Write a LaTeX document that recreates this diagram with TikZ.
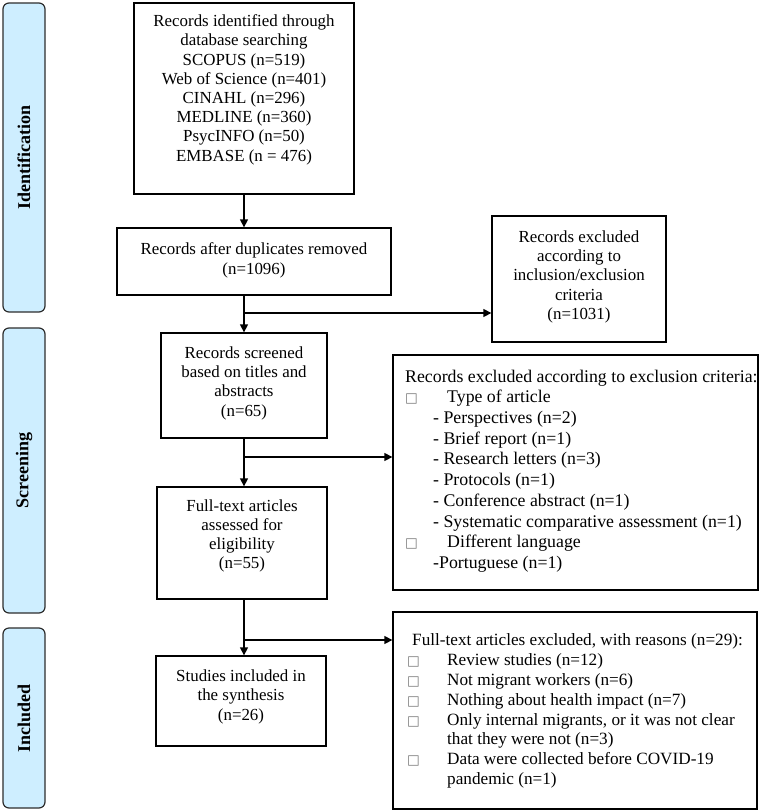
\documentclass[tikz,border=0pt]{standalone}
\usepackage{fontspec}
\setmainfont{Liberation Serif}
\newfontfamily\symfont{DejaVu Sans}
\usetikzlibrary{arrows.meta}
\definecolor{phasefill}{RGB}{206,238,255}
\definecolor{phaseline}{RGB}{45,45,45}
\definecolor{chkgray}{RGB}{120,120,120}
\newcommand{\chk}{{\symfont\fontsize{13.5}{13.5}\selectfont\color{chkgray}□}}
\begin{document}
\begin{tikzpicture}[x=1pt,y=-1pt,
  phase/.style={draw=phaseline, fill=phasefill, rounded corners=6pt, line width=1.2pt,
    rotate=90, inner sep=0pt, font=\fontsize{18}{18}\selectfont\bfseries},
  box/.style={draw=black, line width=1.3pt, inner sep=0pt, align=center,
    font=\fontsize{16.9}{19.2}\selectfont},
  listtext/.style={inner sep=0pt, align=left, anchor=west},
  ln/.style={line width=1.3pt},
  arr/.style={line width=1.3pt, -{Triangle[length=8pt,width=8pt]}}]
\useasboundingbox (0,0) rectangle (765,812);

% phase bars
\node[phase, minimum width=309pt, minimum height=42pt] (pid) at (24,157.5) {Identification};
\node[phase, minimum width=285pt, minimum height=42pt] (psc) at (24,470.5) {Screening};
\node[phase, minimum width=180pt, minimum height=42pt] (pin) at (24,718) {Included};

% main boxes
\node[box, minimum width=220pt, minimum height=191pt, text depth=21pt] (b1) at (244,98.5)
  {Records identified through\\database searching\\SCOPUS (n=519)\\Web of Science (n=401)\\CINAHL (n=296)\\MEDLINE (n=360)\\PsycINFO (n=50)\\EMBASE (n = 476)};
\node[box, minimum width=274pt, minimum height=67pt, text depth=6pt] (b2) at (254,261.5)
  {Records after duplicates removed\\(n=1096)};
\node[box, minimum width=174pt, minimum height=126pt, text depth=8pt] (b4) at (579,279)
  {Records excluded\\according to\\inclusion/exclusion\\criteria\\(n=1031)};
\node[box, minimum width=166pt, minimum height=105pt, text depth=8pt] (b3) at (244,385.5)
  {Records screened\\based on titles and\\abstracts\\(n=65)};
\node[box, minimum width=170pt, minimum height=112pt, text depth=18pt] (b7) at (242,543)
  {Full-text articles\\assessed for\\eligibility\\(n=55)};
\node[box, minimum width=170pt, minimum height=90pt, text depth=12pt] (b8) at (241,701)
  {Studies included in\\the synthesis\\(n=26)};
\node[box, minimum width=365pt, minimum height=235pt] (b5) at (575.5,472.5) {};
\node[box, minimum width=364pt, minimum height=197pt] (b6) at (575,710.5) {};

\node[listtext, font=\fontsize{17.8}{20.7}\selectfont] (t5) at (405,471)
  {Records excluded according to exclusion criteria:\\
   \makebox[42pt][l]{\chk}Type of article\\
   \hspace*{28pt}- Perspectives (n=2)\\
   \hspace*{28pt}- Brief report (n=1)\\
   \hspace*{28pt}- Research letters (n=3)\\
   \hspace*{28pt}- Protocols (n=1)\\
   \hspace*{28pt}- Conference abstract (n=1)\\
   \hspace*{28pt}- Systematic comparative assessment (n=1)\\
   \makebox[42pt][l]{\chk}Different language\\
   \hspace*{28pt}-Portuguese (n=1)};
\node[listtext, font=\fontsize{17.2}{19.9}\selectfont] (t6) at (407,711)
  {\hspace*{5pt}Full-text articles excluded, with reasons (n=29):\\
   \makebox[40pt][l]{\chk}Review studies (n=12)\\
   \makebox[40pt][l]{\chk}Not migrant workers (n=6)\\
   \makebox[40pt][l]{\chk}Nothing about health impact (n=7)\\
   \makebox[40pt][l]{\chk}Only internal migrants, or it was not clear\\
   \hspace*{40pt}that they were not (n=3)\\
   \makebox[40pt][l]{\chk}Data were collected before COVID-19\\
   \hspace*{40pt}pandemic (n=1)};

% connectors
\coordinate (j1) at (244,313);
\coordinate (j2) at (244,457);
\coordinate (j3) at (244,640);
\draw[arr] (b1.south) -- (b1.south |- b2.north);
\draw[arr] (b1.south |- b2.south) -- (b3.north);
\draw[arr] (j1) -- (j1 -| b4.west);
\draw[arr] (b3.south) -- (b3.south |- b7.north);
\draw[arr] (j2) -- (j2 -| b5.west);
\draw[arr] (b3.south |- b7.south) -- (b3.south |- b8.north);
\draw[arr] (j3) -- (j3 -| b6.west);
\end{tikzpicture}
\end{document}
